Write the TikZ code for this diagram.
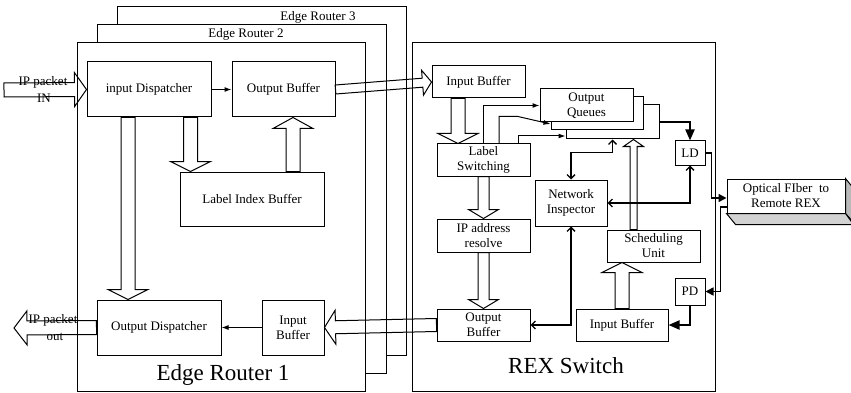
\documentclass[tikz,border=0pt]{standalone}
\usepackage{fontspec}
\setmainfont{Liberation Serif}
\usetikzlibrary{positioning,arrows.meta,calc}

\tikzset{
  blk/.style={draw, line width=1pt, fill=white, inner sep=1pt, align=center,
              font=\fontsize{13}{15}\selectfont},
  sz/.style 2 args={minimum width=#1pt, minimum height=#2pt},
  frame/.style={draw, line width=1pt, fill=white},
  thinarr/.style={line width=1pt, -{Latex[length=7pt,width=5pt]}},
  fiberarr/.style={line width=1.6pt, -{Triangle[length=8pt,width=8pt]}},
  heavyarr/.style={line width=2pt, -{Triangle[length=11pt,width=9pt]}},
  duplex/.style={line width=1.3pt,
                 {Straight Barb[length=4pt,width=8pt]}-{Straight Barb[length=4pt,width=8pt]}},
  hollow/.style={line width=1pt},
  caption/.style={font=\fontsize{13}{15}\selectfont, inner sep=0pt, align=center},
  bigcaption/.style={font=\fontsize{23}{26}\selectfont, inner sep=0pt},
}

% open block arrow: tail, tip, shaft half width, wing half width, head length
\newcommand{\hollowarrow}[5]{%
  \coordinate (hb) at ($#2!#5!#1$);
  \draw[hollow] ($#1!#3!90:#2$) -- ($(hb)!#3!90:#2$) -- ($(hb)!#4!90:#2$) -- #2
    -- ($(hb)!#4!-90:#2$) -- ($(hb)!#3!-90:#2$) -- ($#1!#3!-90:#2$) -- cycle;
}

\begin{document}
\begin{tikzpicture}[x=1pt,y=-1pt]
\useasboundingbox (0,0) rectangle (851,393);

% stacked edge routers and the switch frame
\draw[frame] (117,7) rectangle (406,355);
\draw[frame] (97,25) rectangle (386,373);
\draw[frame] (77,43) rectangle (365,391);
\draw[frame] (412,43) rectangle (715,391);
\node[caption] (er3) at (318,17) {Edge Router 3};
\node[caption] (er2) at (246,34) {Edge Router 2};
\node[bigcaption] (er1) at (223,375) {Edge Router 1};
\node[bigcaption] (rex) at (566,366) {REX Switch};

% edge router blocks
\node[blk, sz={124}{55}] (idisp) at (149,89.5) {input Dispatcher};
\node[blk, sz={103}{55}] (erob) at (283.5,89.5) {Output Buffer};
\node[blk, sz={144}{54}] (lib) at (252,199) {Label Index Buffer};
\node[blk, sz={124}{55}] (odisp) at (159,327.5) {Output Dispatcher};
\node[blk, sz={62}{55}] (erib) at (293,327.5) {Input\\Buffer};

% switch blocks
\node[blk, sz={93}{34}] (oq3) at (612.5,122) {};
\node[blk, sz={92}{33}] (oq2) at (597,113.5) {};
\node[blk, sz={93}{33}] (oq1) at (586.5,105.5) {Output\\Queues};
\node[blk, sz={93}{32}] (rexib) at (478.5,82) {Input Buffer};
\node[blk, sz={93}{32}] (ls) at (483.5,160) {Label\\Switching};
\node[blk, sz={93}{33}] (ipres) at (483.5,235.5) {IP address\\resolve};
\node[blk, sz={93}{32}] (rexob) at (483.5,325) {Output\\Buffer};
\node[blk, sz={72}{46}] (ni) at (571,203) {Network\\Inspector};
\node[blk, sz={93}{32}] (sched) at (653.5,246) {Scheduling\\Unit};
\node[blk, sz={92}{32}] (rexib2) at (622,325) {Input Buffer};
\node[blk, sz={30}{24}] (ld) at (690,153) {LD};
\node[blk, sz={30}{27}] (pd) at (690,291.5) {PD};

% fibre link box with bevelled faces
\node[blk, sz={118}{34}] (of) at (786,196) {Optical FIber~ to\\Remote REX};
\draw[line width=1pt, fill=gray!55] (of.north east) -- ++(9,11) -- ++(0,34) -- (of.south east) -- cycle;
\draw[line width=1pt, fill=gray!35] (of.south west) -- ++(9,11) -- ++(118,0) -- (of.south east) -- cycle;

% packets in and out
\coordinate (pin) at (4,90);
\coordinate (pout) at (14,328);
\hollowarrow{(pin)}{(idisp.west)}{7pt}{17pt}{12pt}
\hollowarrow{(odisp.west)}{(pout)}{7pt}{17pt}{13pt}
\node[caption] (inlbl) at (43,82) {IP packet};
\node[caption] (inlbl2) at (44,98) {IN};
\node[caption] (outlbl) at (53,320) {IP packet};
\node[caption] (outlbl2) at (55,337) {out};

% block arrows inside the edge router
\coordinate (a1) at ([xshift=-21pt]idisp.south east);
\coordinate (a2) at ([xshift=41pt]lib.north);
\coordinate (a3) at ([xshift=-21pt]idisp.south);
\hollowarrow{(a1)}{(a1 |- lib.north)}{7pt}{20pt}{10pt}
\hollowarrow{(a2)}{(a2 |- erob.south)}{7pt}{20pt}{11pt}
\hollowarrow{(a3)}{(a3 |- odisp.north)}{7pt}{20pt}{10pt}

% links between router and switch
\hollowarrow{(erob.east)}{(rexib.west)}{4.5pt}{12.5pt}{9pt}
\hollowarrow{(rexob.west)}{(erib.east)}{6.5pt}{17pt}{11pt}

% block arrows inside the switch
\coordinate (b1) at ([xshift=-20.5pt]rexib.south);
\coordinate (b2) at ([xshift=-20pt]sched.north);
\hollowarrow{(b1)}{(b1 |- ls.north)}{7pt}{20pt}{10pt}
\hollowarrow{(ls.south)}{(ipres.north)}{5.5pt}{15pt}{9pt}
\hollowarrow{(ipres.south)}{(rexob.north)}{5.5pt}{15pt}{9pt}
\hollowarrow{(rexib2.north)}{(rexib2.north |- sched.south)}{7pt}{20pt}{10pt}
\hollowarrow{(b2)}{(b2 |- oq3.south)}{3.5pt}{10pt}{7pt}

% thin data paths
\draw[thinarr] (idisp) -- (erob);
\draw[thinarr] (erib) -- (odisp);
\draw[thinarr] ([xshift=-0.5pt]ls.north) |- (oq1.west);
\draw[thinarr] ([xshift=15.5pt]ls.north) -- ++(0,-27) -- ++(19,0) -- ([yshift=-10.5pt]oq2.west);
\draw[thinarr] ([xshift=34.5pt]ls.north) |- ([yshift=-14pt]oq3.west);

% optical side
\draw[heavyarr] (oq3.east) -| (ld.north);
\draw[fiberarr] (ld.east) -- ++(6,0) |- ([yshift=-2pt]of.west);
\draw[fiberarr] ([yshift=-11pt]of.west) -- ++(-6,0) |- (pd.east);
\draw[heavyarr] (pd.south) |- (rexib2.east);

% inspector links
\draw[duplex] (ni.north) -- ++(0,-27) -| (oq3.south);
\draw[duplex] (ni.east) -| (ld.south);
\draw[duplex] (ni.south) |- (rexob.east);
\end{tikzpicture}
\end{document}
